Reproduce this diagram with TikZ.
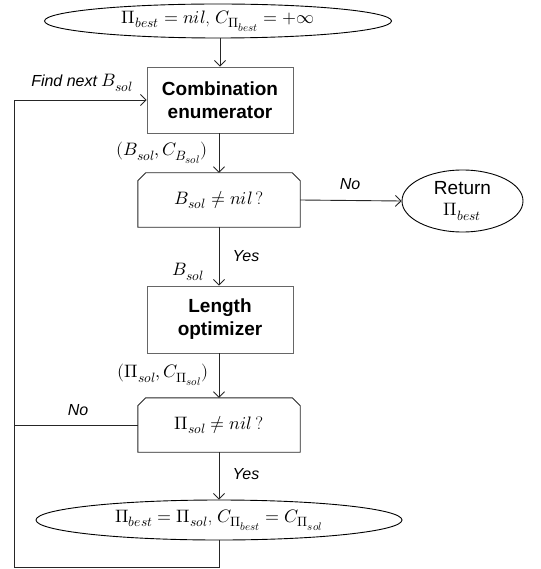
\documentclass[tikz,border=0pt]{standalone}
\usepackage{fontspec}
\usepackage{unicode-math}
\setmathfont{Latin Modern Math}
\DeclareMathSizes{18}{18}{13.5}{11}
\newfontfamily\arial{Liberation Sans}
\usetikzlibrary{shapes.geometric,arrows.meta}
\tikzset{
  lin/.style={line width=0.9pt, draw=black!85},
  arr/.style={lin, -{Straight Barb[length=5.5pt,width=11pt,line width=0.9pt]}},
  procbox/.style={rectangle, draw=black!60, line width=0.9pt, minimum width=146pt, minimum height=66pt, inner sep=0pt, align=center, font=\arial\bfseries\fontsize{19}{23}\selectfont},
  oval/.style={ellipse, draw=black, line width=0.9pt, inner sep=0pt, align=center, font=\fontsize{18}{21}\selectfont},
  dec/.style={rectangle, minimum width=162pt, minimum height=54pt, inner sep=0pt, font=\fontsize{18}{21}\selectfont},
  lbl/.style={font=\arial\itshape\fontsize{16}{19}\selectfont, inner sep=0pt},
  mlbl/.style={font=\fontsize{18}{21}\selectfont, inner sep=0pt}
}
\begin{document}
\begin{tikzpicture}[x=1pt,y=-1pt]
\useasboundingbox (0,0) rectangle (540,569);
\node[oval, minimum width=347pt, minimum height=34pt] (start) at (218,21) {$\Pi_{best} = nil$, $C_{\Pi_{best}} = +\infty$};
\node[procbox] (comb) at (220,100) {Combination\\enumerator};
\node[dec] (d1) at (219,200) {$B_{sol} \neq nil$\,?};
\draw[lin] ([xshift=8pt]d1.north west) -- ([xshift=-8pt]d1.north east) -- ([yshift=-8pt]d1.north east) -- (d1.south east) -- (d1.south west) -- ([yshift=-8pt]d1.north west) -- cycle;
\node[oval, minimum width=121pt, minimum height=62pt, font=\arial\fontsize{19}{22}\selectfont] (ret) at (462.5,201) {Return\\[-1pt]\fontsize{18}{21}\selectfont$\Pi_{best}$};
\node[procbox, minimum height=67pt] (len) at (220,319.5) {Length\\optimizer};
\node[dec] (d2) at (219,425) {$\Pi_{sol} \neq nil$\,?};
\draw[lin] ([xshift=8pt]d2.north west) -- ([xshift=-8pt]d2.north east) -- ([yshift=-8pt]d2.north east) -- (d2.south east) -- (d2.south west) -- ([yshift=-8pt]d2.north west) -- cycle;
\node[oval, minimum width=366pt, minimum height=40pt] (upd) at (219,520) {$\Pi_{best} = \Pi_{sol}$, $C_{\Pi_{best}} = C_{\Pi_{sol}}$};
\coordinate (lb) at (14,567);
% connectors
\draw[arr] (start.south -| comb.north) -- (comb.north);
\draw[arr] (comb.south -| d1.north) -- (d1.north);
\draw[arr] (d1.east) -- (ret.west);
\draw[arr] (d1.south) -- (d1.south |- len.north);
\draw[arr] (len.south -| d2.north) -- (d2.north);
\draw[arr] (d2.south) -- (upd.north);
\draw[lin] (d2.west) -- (d2.west -| lb);
\draw[arr] (upd.south) |- (lb) |- (comb.west);
% labels
\node[lbl] (fn) at (82,83) {Find next \normalfont\fontsize{18}{21}\selectfont$B_{sol}$};
\node[mlbl] (l1) at (162,153) {$(B_{sol}, C_{B_{sol}})$};
\node[lbl] (no1) at (350,184) {No};
\node[lbl] (y1) at (246,256) {Yes};
\node[mlbl] (l2) at (188,272) {$B_{sol}$};
\node[mlbl] (l3) at (163,375) {$(\Pi_{sol}, C_{\Pi_{sol}})$};
\node[lbl] (no2) at (78,410) {No};
\node[lbl] (y2) at (246,474) {Yes};
\end{tikzpicture}
\end{document}
